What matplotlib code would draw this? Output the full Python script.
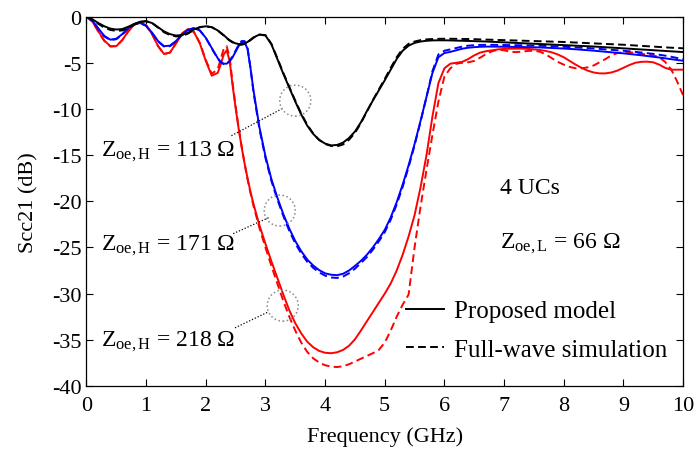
import numpy as np
import matplotlib
matplotlib.use("Agg")
import matplotlib.pyplot as plt
from matplotlib.lines import Line2D

plt.rcParams["font.family"] = ["Liberation Serif", "DejaVu Serif"]
plt.rcParams["font.size"] = 16
plt.rcParams["mathtext.fontset"] = "custom"
plt.rcParams["mathtext.rm"] = "Liberation Serif"
plt.rcParams["mathtext.it"] = "Liberation Serif:italic"
plt.rcParams["axes.unicode_minus"] = False

# frequency grid (GHz): finer steps around the sharp edges near 2.2-2.8 GHz
freq = np.round(np.r_[np.linspace(0.0, 2.1, 22),
                      np.linspace(2.2, 2.75, 12),
                      np.linspace(2.8, 10.0, 73)], 2)

# Zoe,H = 113 ohm
bk_model = [
    0, -0.3, -0.7, -1.05, -1.3, -1.4, -1.35, -1.1, -0.8, -0.55, -0.5, -0.7, -1.15, -1.6, -1.9, -2.05, -2.0, -1.75, -1.4, -1.15, -1.05, -1.15,
    -1.5, -1.75, -2.0, -2.3, -2.55, -2.75, -2.9, -2.97, -3.0, -2.92, -2.75, -2.5,
    -2.25, -1.95, -2.05, -3.0, -4.6, -6.2, -7.7, -9.2, -10.6, -11.8,
    -12.7, -13.35, -13.75, -13.95, -13.9, -13.65, -13.15, -12.45, -11.45, -10.25,
    -9.1, -8.0, -6.9, -5.75, -4.6, -3.7, -3.15, -2.85, -2.7, -2.62,
    -2.58, -2.57, -2.57, -2.58, -2.6, -2.62, -2.64, -2.66, -2.68, -2.7,
    -2.73, -2.76, -2.79, -2.82, -2.85, -2.88, -2.91, -2.94, -2.97, -3.0,
    -3.03, -3.06, -3.09, -3.12, -3.15, -3.18, -3.21, -3.24, -3.28, -3.32,
    -3.36, -3.4, -3.44, -3.48, -3.52, -3.56, -3.6, -3.64, -3.68, -3.72,
    -3.76, -3.8, -3.84,
]
bk_fw = [
    0, -0.35, -0.8, -1.2, -1.45, -1.55, -1.5, -1.25, -0.9, -0.6, -0.5, -0.7, -1.2, -1.7, -2.0, -2.15, -2.1, -1.85, -1.45, -1.15, -1.05, -1.15,
    -1.5, -1.78, -2.05, -2.35, -2.6, -2.8, -2.95, -3.02, -3.05, -2.97, -2.8, -2.55,
    -2.3, -1.95, -2.0, -2.95, -4.5, -6.1, -7.6, -9.1, -10.5, -11.7,
    -12.65, -13.35, -13.8, -14.0, -14.05, -13.85, -13.35, -12.6, -11.55, -10.3,
    -9.05, -7.9, -6.75, -5.55, -4.4, -3.5, -2.95, -2.7, -2.55, -2.47,
    -2.43, -2.41, -2.4, -2.4, -2.41, -2.42, -2.43, -2.45, -2.47, -2.49,
    -2.51, -2.53, -2.55, -2.57, -2.59, -2.61, -2.63, -2.65, -2.67, -2.69,
    -2.71, -2.73, -2.75, -2.78, -2.81, -2.84, -2.87, -2.9, -2.93, -2.96,
    -2.99, -3.02, -3.05, -3.09, -3.13, -3.17, -3.21, -3.25, -3.29, -3.33,
    -3.37, -3.4, -3.43,
]

# Zoe,H = 171 ohm
bl_model = [
    0, -0.45, -1.3, -2.1, -2.5, -2.4, -1.9, -1.25, -0.8, -0.7, -1.0, -1.75, -2.65, -3.2, -3.15, -2.65, -1.95, -1.45, -1.25, -1.5, -2.3, -3.4,
    -4.5, -4.9, -5.1, -5.1, -4.85, -4.4, -3.8, -3.2, -2.8, -2.75, -3.5, -5.6,
    -8.0, -12.0, -15.1, -17.6, -19.6, -21.4, -22.95, -24.3, -25.4, -26.3,
    -26.95, -27.45, -27.8, -27.95, -28.0, -27.85, -27.5, -27.0, -26.45, -25.8,
    -25.0, -24.1, -23.1, -21.75, -20.1, -18.2, -16.1, -13.8, -11.3, -8.7,
    -6.1, -4.4, -3.95, -3.82, -3.65, -3.48, -3.37, -3.31, -3.27, -3.25,
    -3.25, -3.26, -3.27, -3.28, -3.29, -3.3, -3.31, -3.32, -3.34, -3.37,
    -3.4, -3.43, -3.46, -3.5, -3.54, -3.59, -3.64, -3.69, -3.75, -3.81,
    -3.87, -3.93, -3.98, -4.05, -4.12, -4.19, -4.27, -4.35, -4.43, -4.52,
    -4.61, -4.7, -4.78,
]
bl_fw = [
    0, -0.45, -1.35, -2.15, -2.55, -2.45, -1.95, -1.3, -0.8, -0.7, -1.0, -1.8, -2.7, -3.25, -3.2, -2.7, -2.0, -1.45, -1.25, -1.5, -2.3, -3.45,
    -4.55, -4.95, -5.15, -5.1, -4.8, -4.3, -3.7, -3.05, -2.65, -2.65, -3.4, -5.6,
    -8.2, -12.2, -15.3, -17.8, -19.8, -21.6, -23.2, -24.55, -25.65, -26.55,
    -27.2, -27.7, -28.05, -28.25, -28.3, -28.15, -27.8, -27.3, -26.7, -26.05,
    -25.25, -24.35, -23.35, -22.0, -20.35, -18.45, -16.3, -13.95, -11.4, -8.7,
    -5.9, -4.1, -3.7, -3.55, -3.4, -3.25, -3.15, -3.1, -3.07, -3.06,
    -3.06, -3.07, -3.08, -3.09, -3.1, -3.11, -3.12, -3.14, -3.16, -3.18,
    -3.21, -3.24, -3.27, -3.3, -3.33, -3.37, -3.41, -3.45, -3.5, -3.55,
    -3.6, -3.65, -3.7, -3.76, -3.82, -3.89, -3.96, -4.04, -4.13, -4.23,
    -4.35, -4.48, -4.6,
]

# Zoe,H = 218 ohm
rd_model = [
    0, -0.55, -1.6, -2.6, -3.2, -3.2, -2.55, -1.6, -0.85, -0.6, -0.95, -1.9, -3.2, -4.05, -3.9, -2.9, -1.85, -1.35, -1.65, -2.9, -4.8, -6.4,
    -6.1, -5.2, -4.1, -3.65, -4.8, -7.5, -9.9, -12.1, -14.1, -15.9, -17.5, -19.0,
    -20.3, -22.6, -24.6, -26.5, -28.3, -30.1, -31.8, -33.2, -34.3, -35.2,
    -35.8, -36.2, -36.4, -36.45, -36.35, -36.1, -35.65, -34.95, -34.0, -33.0,
    -32.0, -31.0, -30.0, -28.9, -27.5, -25.8, -23.8, -21.5, -18.5, -15.0,
    -10.8, -7.2, -5.6, -5.1, -5.0, -4.9, -4.6, -4.2, -3.9, -3.75,
    -3.65, -3.55, -3.5, -3.48, -3.47, -3.47, -3.5, -3.55, -3.62, -3.72,
    -3.87, -4.1, -4.4, -4.8, -5.2, -5.55, -5.85, -6.05, -6.15, -6.15,
    -6.05, -5.85, -5.55, -5.25, -5.0, -4.9, -4.88, -4.95, -5.2, -5.55,
    -5.75, -5.75, -5.75,
]
rd_fw = [
    0, -0.55, -1.65, -2.65, -3.25, -3.2, -2.55, -1.6, -0.85, -0.6, -0.95, -1.9, -3.2, -4.05, -3.9, -2.9, -1.85, -1.35, -1.65, -2.85, -4.7, -6.2,
    -5.7, -4.6, -3.5, -3.2, -4.4, -7.2, -9.7, -12.0, -14.0, -15.9, -17.6, -19.1,
    -20.5, -22.9, -25.0, -27.0, -28.9, -30.8, -32.5, -34.0, -35.3, -36.3,
    -37.0, -37.45, -37.75, -37.9, -37.95, -37.85, -37.65, -37.35, -37.05, -36.75,
    -36.45, -36.1, -35.3, -34.0, -32.5, -31.2, -30.1, -25.0, -20.6, -16.6,
    -12.8, -9.2, -6.5, -5.6, -5.1, -5.0, -4.95, -4.8, -4.45, -4.05,
    -3.75, -3.6, -3.65, -3.8, -3.85, -3.8, -3.72, -3.7, -3.8, -4.1,
    -4.5, -4.9, -5.2, -5.45, -5.6, -5.6, -5.5, -5.3, -4.95, -4.6,
    -4.2, -3.95, -3.85, -3.85, -3.95, -4.05, -4.1, -4.2, -4.4, -4.9,
    -5.7, -7.0, -8.5,
]

labels_zoeh = ["113", "171", "218"]

fig = plt.figure(figsize=(6.98, 4.52), dpi=100)
ax = fig.add_axes([0.1239, 0.1438, 0.8546, 0.8173])

lw = 1.4
dash = (4.0, 2.2)
for model, fw, col in [(rd_model, rd_fw, "#ff0000"),
                       (bl_model, bl_fw, "#0000ff"),
                       (bk_model, bk_fw, "black")]:
    ax.plot(freq, fw, color=col, lw=lw, dashes=dash)
    ax.plot(freq, model, color=col, lw=lw)

# dotted marker circles + leader lines
circ_x = [3.5, 3.24, 3.29]
circ_y = [-9.1, -21.0, -31.3]
ax.scatter(circ_x, circ_y, s=500, facecolors="none", edgecolors="#888888",
           linestyles=":", linewidths=1.1, zorder=5)
leaders = [((2.43, 3.27), (-12.9, -10.0)),
           ((2.46, 3.08), (-23.5, -21.7)),
           ((2.49, 3.04), (-33.7, -32.0))]
for (lx, ly) in leaders:
    ax.plot(lx, ly, color="black", lw=0.9, ls=(0, (1, 1.5)))

for lab, yb in zip(labels_zoeh, [-15.05, -25.15, -35.6]):
    ax.text(0.25, yb, r"Z$_{\rm oe,H}$ = " + lab + " Ω", ha="left", va="baseline", fontsize=17)

ax.text(6.93, -19.1, "4 UCs", ha="left", va="baseline", fontsize=17)
ax.text(6.93, -25.0, r"Z$_{\rm oe,L}$ = 66 Ω", ha="left", va="baseline", fontsize=17)

handles = [Line2D([], [], color="black", lw=lw),
           Line2D([], [], color="black", lw=lw, dashes=dash)]
ax.legend(handles, ["Proposed model", "Full-wave simulation"], loc="lower right",
          bbox_to_anchor=(0.99, 0.04), frameon=False, fontsize=18,
          handlelength=1.5, handletextpad=0.4, labelspacing=0.65, borderaxespad=0)

ax.set_xlim(0, 10)
ax.set_ylim(-40, 0)
ax.set_xticks(range(0, 11))
ax.set_yticks(range(-40, 1, 5))
ax.tick_params(direction="in", top=True, right=True, length=5, width=0.8, labelsize=16)
ax.tick_params(axis="x", pad=7)
for s in ax.spines.values():
    s.set_linewidth(0.9)
ax.set_xlabel("Frequency (GHz)", fontsize=16, labelpad=8)
ax.set_ylabel("Scc21 (dB)", fontsize=16, labelpad=10)

fig.savefig("out.png", dpi=100)
